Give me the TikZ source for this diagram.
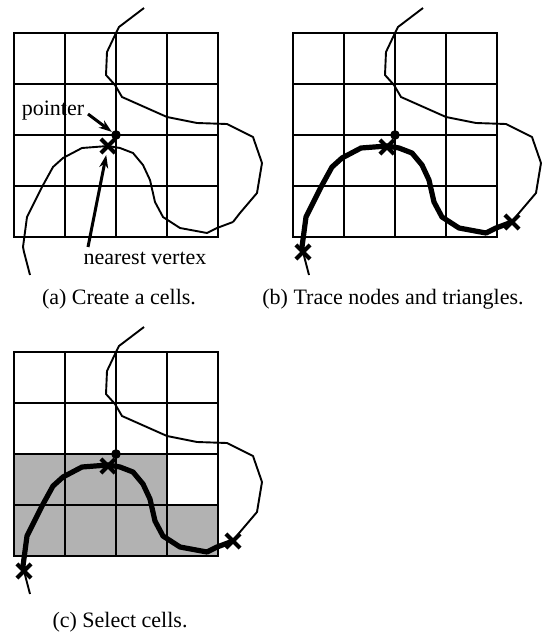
\documentclass[tikz,border=0pt]{standalone}
\usepackage{fontspec}
\setmainfont{Liberation Serif}
\usetikzlibrary{arrows.meta,shapes.misc}

% the traced stroke, in the coordinates of one panel
\newcommand{\curveupper}{(144,8) -- (119,27) -- (116,33) -- (107,52) -- (106,75) -- (115,85) -- (122,97) -- (167,117) -- (197,123) -- (227,124) -- (253,137) -- (262,163) -- (257,193) -- (240,213) -- (233,222)}
\newcommand{\curvelower}{(233,222) -- (217,228) -- (207,233) -- (180,228) -- (163,217) -- (155,202) -- (150,180) -- (143,165) -- (133,153) -- (120,148) -- (108,146) -- (82,148) -- (63,158) -- (53,167) -- (42,187) -- (27,217) -- (23,247) -- (24,252)}
\newcommand{\curvetail}{(24,252) -- (30,275)}

\begin{document}
\begin{tikzpicture}
  [x=0.5pt,y=-0.5pt,
   gridline/.style={line width=1.1pt},
   strokeline/.style={line width=0.95pt,line join=round},
   traceline/.style={line width=2.6pt,line join=round,line cap=round},
   vxmark/.style={cross out,draw,line width=2.1pt,minimum size=5pt,inner sep=0pt},
   ptrdot/.style={circle,fill,inner sep=0pt,minimum size=4.8pt},
   tag/.style={inner sep=0pt,anchor=base,font=\fontsize{11}{13}\selectfont},
   leader/.style={line width=1.5pt,-{Stealth[length=6.5pt,width=4.5pt]}},
   cellfill/.style={fill=black!30}]
  \useasboundingbox (0,0) rectangle (546,633);

  % shaded cells of (c)
  \fill[cellfill] (14,505) rectangle (218,556);
  \fill[cellfill] (14,454) rectangle (167,505);

  % grids and strokes of the three panels
  \foreach \dx/\dy in {0/0, 279/0, 0/319}
  {
  \begin{scope}[shift={(\dx,\dy)}]
    \draw[gridline] (14,33) rectangle (218,237);
    \foreach \i in {1,2,3}
    {
      \draw[gridline] ({14+51*\i},33) -- ({14+51*\i},237);
      \draw[gridline] (14,{33+51*\i}) -- (218,{33+51*\i});
    }
    \draw[strokeline] \curveupper;
    \draw[strokeline] \curvetail;
  \end{scope}
  }

  % (a)
  \draw[strokeline] \curvelower;
  \node[ptrdot] (pa) at (116,135) {};
  \node[vxmark] (xa) at (108,146) {};
  \node[tag] (ptr) at (53,115) {pointer};
  \node[tag] (nv) at (145,264) {nearest vertex};
  \coordinate (ptrtail) at (88,114);
  \coordinate (nvtail) at (88,247);
  \draw[leader] (ptrtail) -- (pa);
  \draw[leader,shorten >=1pt] (nvtail) -- (xa);
  \node[tag] (capa) at (119,304) {(a) Create a cells.};

  % (b)
  \begin{scope}[shift={(279,0)}]
    \draw[traceline] \curvelower;
    \node[ptrdot] (pb) at (116,135) {};
    \node[vxmark] (xb) at (108,147) {};
    \node[vxmark] (lb) at (24,252) {};
    \node[vxmark] (rb) at (233,222) {};
    \node[tag] (capb) at (114,304) {(b) Trace nodes and triangles.};
  \end{scope}

  % (c)
  \begin{scope}[shift={(0,319)}]
    \draw[traceline] \curvelower;
    \node[ptrdot] (pc) at (116,135) {};
    \node[vxmark] (xc) at (108,147) {};
    \node[vxmark] (lc) at (24,252) {};
    \node[vxmark] (rc) at (233,222) {};
    \node[tag] (capc) at (120,308) {(c) Select cells.};
  \end{scope}
\end{tikzpicture}
\end{document}
